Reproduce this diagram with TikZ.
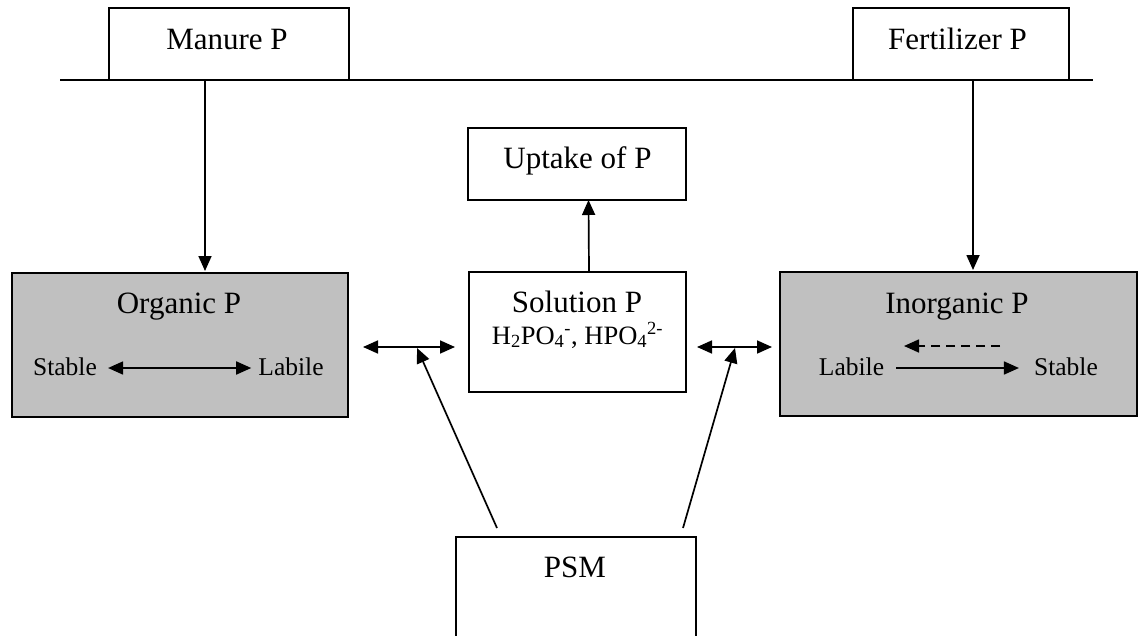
\documentclass[tikz,border=0pt]{standalone}
\usepackage{fontspec}
\setmainfont{Liberation Serif}
\usetikzlibrary{arrows.meta}
\definecolor{boxgray}{HTML}{C0C0C0}
\begin{document}
\begin{tikzpicture}[x=1pt,y=-1pt,
  box/.style={draw,line width=2pt,rectangle,inner sep=0pt,outer sep=0pt},
  graybox/.style={box,fill=boxgray},
  big/.style={font=\fontsize{31}{36}\selectfont,inner sep=0pt,anchor=base},
  small/.style={font=\fontsize{25.5}{30}\selectfont,inner sep=0pt,anchor=base},
  arr/.style={line width=1.7pt,-{Triangle[length=15pt,width=13pt]}},
  darr/.style={line width=1.7pt,{Triangle[length=15pt,width=13pt]}-{Triangle[length=15pt,width=13pt]}},
  plain/.style={line width=2pt}]
\clip (0,0) rectangle (1139,636);
\fill[white] (0,0) rectangle (1139,636);

% boxes
\node[box,minimum width=240pt,minimum height=72pt] (manure) at (229,44) {};
\node[box,minimum width=216pt,minimum height=72pt] (fert) at (961,44) {};
\node[box,minimum width=218pt,minimum height=72pt] (uptake) at (577,164) {};
\node[box,minimum width=217pt,minimum height=120pt] (solution) at (577.5,332) {};
\node[graybox,minimum width=336pt,minimum height=144pt] (organic) at (180,345) {};
\node[graybox,minimum width=357pt,minimum height=144pt] (inorganic) at (958.5,344) {};
\node[box,minimum width=240pt,minimum height=160pt] (psm) at (576,617) {};

% texts
\node[big] (tmanure) at (227,50) {Manure P};
\node[big] (tfert) at (957.5,50) {Fertilizer P};
\node[big] (tuptake) at (577.5,169) {Uptake of P};
\node[big] (tsol) at (577,312) {Solution P};
\node[small,font=\fontsize{26.5}{30}\selectfont] (tform) at (577.5,344) {H\textsubscript{2}PO\textsubscript{4}\textsuperscript{-}, HPO\textsubscript{4}\textsuperscript{2-}};
\node[big] (torg) at (179,313) {Organic P};
\node[small] (stable1) at (65,375) {Stable};
\node[small] (labile1) at (291,375) {Labile};
\node[big] (tinorg) at (957,313) {Inorganic P};
\node[small] (labile2) at (851.5,375) {Labile};
\node[small] (stable2) at (1066,375) {Stable};
\node[big] (tpsm) at (575,577) {PSM};

% horizontal line
\coordinate (lineL) at (60,80);
\coordinate (lineR) at (1093,80);
\draw[plain] (lineL) -- (lineR);

% input arrows
\coordinate (mtip) at (205,271);
\coordinate (ftip) at (973,270);
\draw[arr] (manure.south -| mtip) -- (mtip);
\draw[arr] (fert.south -| ftip) -- (ftip);

% uptake
\draw[arr] ([xshift=11.5pt]solution.north) -- ([xshift=11.5pt]uptake.south);

% organic internal
\draw[darr] ([shift={(11pt,7pt)}]stable1.base east) -- ([shift={(-7pt,7pt)}]labile1.base west);

% inorganic internal
\draw[arr] ([shift={(12pt,7pt)}]labile2.base east) -- ([shift={(-15pt,7pt)}]stable2.base west);
\coordinate (dashS) at (1000,346);
\coordinate (dashE) at (904,346);
\draw[arr,dashed,dash pattern=on 9pt off 6pt] (dashS) -- (dashE);

% exchange arrows
\coordinate (lA) at (363,347);
\coordinate (lB) at (455,347);
\coordinate (lM) at (417,348);
\coordinate (rA) at (697,347);
\coordinate (rB) at (772,347);
\coordinate (rM) at (735,348);
\draw[darr] (lA) -- (lB);
\draw[darr] (rA) -- (rB);

% PSM arrows
\draw[arr] ([xshift=-79pt]psm.north) ++(0,-9) -- (lM);
\draw[arr] ([xshift=107pt]psm.north) ++(0,-9) -- (rM);
\end{tikzpicture}
\end{document}
